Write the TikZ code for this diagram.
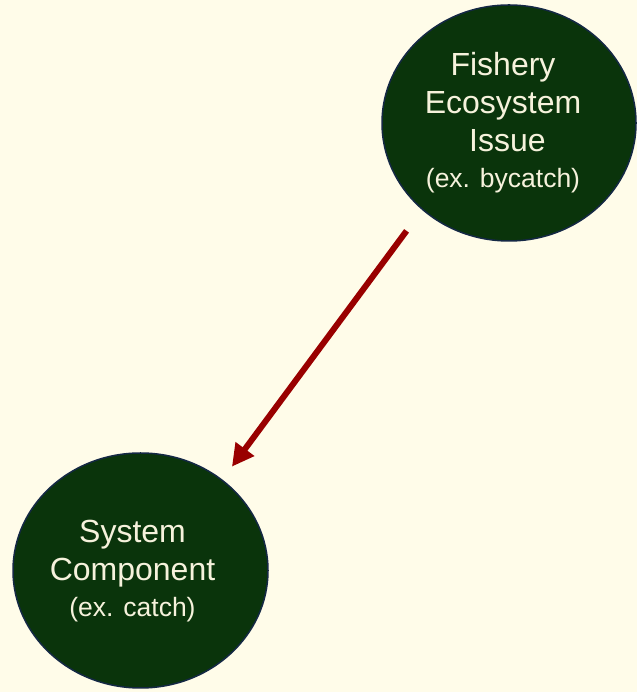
\documentclass[tikz,border=0pt]{standalone}
\usepackage{fontspec}
\setmainfont{Liberation Sans}
\usetikzlibrary{arrows.meta, shapes.geometric}
\definecolor{paper}{HTML}{FFFCE9}
\definecolor{kelp}{HTML}{0A340B}
\definecolor{navy}{HTML}{142844}
\definecolor{rust}{HTML}{990000}
\definecolor{chalk}{HTML}{F6F2DC}

\begin{document}
\begin{tikzpicture}[x=1pt, y=1pt,
                    bubble/.style={ellipse, draw=navy, line width=1.5pt, fill=kelp,
                                   inner sep=0pt},
                    blurb/.style={text=chalk, align=center, inner sep=0pt,
                                  font=\fontsize{32}{38}\selectfont}]
                    \tikzstyle{link}=[rust, line width=6pt,
                                      -{Triangle[length=22pt,width=22pt]},
                                      shorten <=26pt, shorten >=16pt]

                    % page
                    \fill[paper] (0,0) rectangle (637,692);
                    \useasboundingbox (0,0) rectangle (637,692);

                    % bubbles
                    \node (Issue) [bubble, minimum width=254pt, minimum height=236pt] at (509,569) {};
                    \node (Component) [bubble, minimum width=255pt, minimum height=235pt] at (140.5,121.5) {};

                    \node (IssueText) [blurb] at ([xshift=-6pt]Issue.center)
                        {Fishery\\Ecosystem\\\hspace*{0.28em}Issue\\[-2pt]{\fontsize{26.5}{30}\selectfont (ex. bycatch)}};
                    \node (ComponentText) [blurb] at ([xshift=-8pt,yshift=-1pt]Component.center)
                        {System\\Component\\[-2pt]{\fontsize{26.5}{30}\selectfont (ex. catch)}};

                    \draw[link] (Issue.225) -- (Component.48);
                \end{tikzpicture}
\end{document}
